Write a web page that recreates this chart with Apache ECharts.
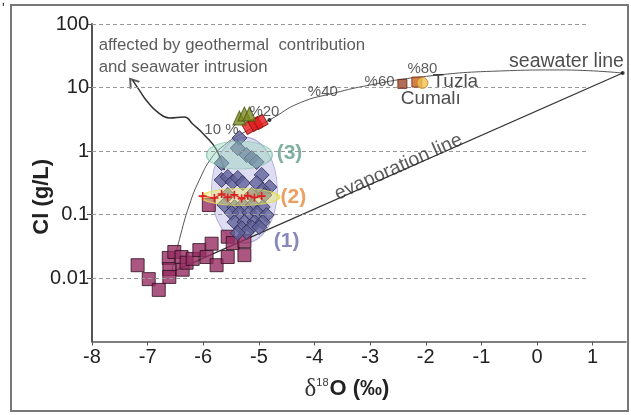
<!DOCTYPE html>
<html>
<head>
<meta charset="utf-8">
<script src="https://cdn.jsdelivr.net/npm/echarts@6/dist/echarts.min.js"></script>
<style>
  html, body { margin: 0; padding: 0; background: #fff; }
  #chart { width: 631px; height: 415px; }
</style>
</head>
<body>
<div id="chart"></div>
<script>
// Axis ticks
const xTicks = [-8, -7, -6, -5, -4, -3, -2, -1, 0, 1];
const yTicks = [0.01, 0.1, 1, 10, 100];

// δ18O (‰), Cl (g/L) — shallow fresh groundwater (squares)
const freshSamples = [
  [-7.18, 0.0159], [-6.98, 0.0096], [-6.80, 0.0065], [-6.62, 0.0207],
  [-6.61, 0.0138], [-6.61, 0.0104], [-6.52, 0.0257], [-6.39, 0.0214],
  [-6.37, 0.0135], [-6.30, 0.0174], [-6.19, 0.0200], [-6.07, 0.0275],
  [-5.94, 0.0214], [-5.85, 0.0347], [-5.76, 0.0159], [-5.56, 0.0447],
  [-5.56, 0.0214], [-5.47, 0.0355], [-5.26, 0.0380], [-5.26, 0.0229],
  [-5.90, 0.141]
];

// Geothermal / mixed waters (diamonds)
const thermalSamples = [
  [-5.35, 1.60], [-5.38, 1.11], [-5.22, 0.865], [-5.13, 0.776], [-5.04, 0.67],
  [-5.67, 0.645], [-4.95, 0.42], [-4.81, 0.27], [-5.67, 0.35], [-5.56, 0.39],
  [-5.47, 0.325], [-5.38, 0.376], [-5.29, 0.313], [-5.04, 0.313], [-4.93, 0.243],
  [-5.56, 0.203], [-5.13, 0.203], [-4.90, 0.203], [-5.62, 0.141], [-5.44, 0.131],
  [-5.29, 0.141], [-5.11, 0.141], [-4.93, 0.131], [-5.49, 0.106], [-5.35, 0.106],
  [-5.17, 0.106], [-5.03, 0.106], [-4.86, 0.098], [-5.44, 0.076], [-5.26, 0.076],
  [-5.08, 0.076], [-4.93, 0.076], [-5.31, 0.061], [-5.13, 0.063], [-4.99, 0.063],
  [-5.22, 0.053], [-5.38, 0.051]
];

// Saline geothermal waters (red)
const salineSamples = [[-5.17, 2.39], [-5.06, 2.66], [-4.97, 2.86]];
// Thermal springs (triangles)
const springSamples = [[-5.35, 3.31], [-5.26, 3.83], [-5.17, 3.83]];
// Tuzla / Cumalı springs
const tuzlaSquare = [[-2.42, 11.4]];
const cumaliSquare = [[-2.16, 12.2]];
const tuzlaCircle = [[-2.06, 11.8]];
// Group (2) samples
const group2Samples = [
  [-6.01, 0.195], [-5.80, 0.182], [-5.67, 0.21], [-5.56, 0.185], [-5.44, 0.205],
  [-5.31, 0.178], [-5.20, 0.198], [-5.08, 0.185], [-4.95, 0.195]
];

// End members
const seawater = [1.54, 16.9];
const freshEnd = [-6.57, 0.0124];

// Fresh–seawater mixing curve
const mixingCurve = [
  [-6.57, 0.0124], [-6.43, 0.040], [-6.25, 0.141], [-6.07, 0.35], [-5.85, 0.78],
  [-5.62, 1.24], [-5.35, 1.79], [-4.81, 3.08], [-4.27, 5.7], [-3.64, 8.2],
  [-3.01, 10.9], [-2.11, 14.6], [-0.67, 18.2], [0.41, 18.9], [1.54, 16.9]
];
const mix20 = [[-4.81, 3.08]];

// Trend arrow towards geothermal / seawater influence
const arrowPath = [
  [-5.62, 0.50], [-5.76, 1.04], [-5.98, 1.79], [-6.19, 2.66], [-6.34, 3.43],
  [-6.61, 3.31], [-6.82, 4.11], [-7.00, 5.9], [-7.15, 9.1], [-7.27, 13.1]
];

// Group envelopes: centre points
const group1Centre = [[-5.26, 0.243]];
const group3Centre = [[-5.35, 0.865]];
const group2Centre = [[-5.33, 0.189]];

// Text annotations (data-space anchors)
const annotations = [
  { text: 'affected by geothermal  contribution', at: [-7.88, 46.7], pos: 'right', size: 16.8, color: '#333' },
  { text: 'and seawater intrusion', at: [-7.88, 21], pos: 'right', size: 16.8, color: '#333' },
  { text: '10 %', at: [-5.98, 2.14], pos: 'right', size: 15, color: '#333' },
  { text: '%20', at: [-4.90, 4.11], pos: 'inside', size: 15, color: '#333' },
  { text: '%40', at: [-3.85, 8.5], pos: 'inside', size: 15, color: '#333' },
  { text: '%60', at: [-2.83, 12.2], pos: 'inside', size: 15, color: '#333' },
  { text: '%80', at: [-2.06, 19.6], pos: 'inside', size: 15, color: '#333' },
  { text: 'Tuzla', at: [-1.88, 12.2], pos: 'right', size: 19, color: '#222' },
  { text: 'Cumalı', at: [-1.91, 6.6], pos: 'inside', size: 19, color: '#222' },
  { text: 'seawater line', at: [0.53, 25.2], pos: 'inside', size: 19.5, color: '#222' },
  { text: 'evaporation line', at: [-2.49, 0.56], pos: 'inside', size: 19.5, color: '#333', rotate: 24 },
  { text: '(1)', at: [-4.50, 0.0383], pos: 'inside', size: 21, color: '#6b6ba8', bold: true },
  { text: '(2)', at: [-4.38, 0.189], pos: 'inside', size: 21, color: '#e8873a', bold: true },
  { text: '(3)', at: [-4.45, 0.93], pos: 'inside', size: 21, color: '#5f9c8a', bold: true }
];

const FONT = 'Liberation Sans, Arial, sans-serif';
const gridEndX = 0.89;

const chart = echarts.init(document.getElementById('chart'), null, { renderer: 'canvas' });

const option = {
  animation: false,
  backgroundColor: '#fff',
  textStyle: { fontFamily: FONT },
  graphic: [
    { type: 'rect', z: -10, shape: { x: 11, y: 5, width: 617, height: 406 },
      style: { fill: 'none', stroke: '#777', lineWidth: 2 } },
    { type: 'text', left: 2, top: 2, style: { text: 'ʹ', fontSize: 14, fill: '#333', fontFamily: FONT } }
  ],
  grid: { left: 92, top: 24, width: 534, height: 317.5 },
  xAxis: {
    type: 'value', min: -8, max: 1.6, interval: 1,
    axisLine: { onZero: false, lineStyle: { color: '#555', width: 1.5 } },
    axisTick: { length: 4, lineStyle: { color: '#555' }, customValues: xTicks },
    axisLabel: { fontSize: 20, color: '#222', margin: 6, fontFamily: FONT, customValues: xTicks },
    splitLine: { show: false },
    name: '{d|δ}{s|18}{b|O (‰)}',
    nameLocation: 'middle', nameGap: 35,
    nameTextStyle: {
      padding: [0, 24, 0, 0],
      rich: {
        d: { fontFamily: 'Liberation Serif, serif', fontSize: 25, color: '#333' },
        s: { fontFamily: FONT, fontSize: 11, color: '#333', padding: [0, 1, 13, 0] },
        b: { fontFamily: FONT, fontSize: 22, fontWeight: 'bold', color: '#222' }
      }
    }
  },
  yAxis: {
    type: 'log', logBase: 10, min: 0.001, max: 100,
    axisLine: { onZero: false, lineStyle: { color: '#555', width: 2 } },
    axisTick: { length: 5, lineStyle: { color: '#555' } },
    axisLabel: { fontSize: 20, color: '#222', margin: 3, fontFamily: FONT, showMinLabel: false,
      formatter: v => String(+v.toPrecision(3)) },
    splitLine: { show: false },
    minorTick: { show: false },
    name: 'Cl (g/L)', nameLocation: 'middle', nameGap: 39, nameMoveOverlap: false,
    nameTextStyle: { fontSize: 22, fontWeight: 'bold', color: '#222', fontFamily: FONT, padding: [0, 28, 0, 0] }
  },
  series: [
    // dashed horizontal grid lines
    {
      type: 'line', data: [], silent: true, z: 0,
      markLine: {
        silent: true, symbol: 'none', animation: false,
        label: { show: false },
        lineStyle: { color: '#999', type: [4, 3], width: 1 },
        data: yTicks.map(v => [{ coord: [-8, v] }, { coord: [gridEndX, v] }])
      }
    },
    // group (1) envelope
    {
      type: 'scatter', data: group1Centre, z: 1, silent: true,
      symbol: 'circle', symbolSize: [66, 106],
      itemStyle: { color: 'rgba(175,170,225,0.5)', borderColor: 'rgba(120,112,185,0.7)', borderWidth: 1 }
    },
    // evaporation line
    {
      type: 'line', data: [freshEnd, seawater], z: 2, silent: true, showSymbol: false,
      lineStyle: { color: '#333', width: 1.3 }
    },
    // mixing curve
    {
      type: 'line', data: mixingCurve, z: 2, silent: true, showSymbol: false, smooth: true,
      lineStyle: { color: '#555', width: 1 }
    },
    // trend arrow
    {
      type: 'line', data: arrowPath, z: 2, silent: true, showSymbol: false, smooth: true,
      lineStyle: { color: '#333', width: 1.5 }
    },
    {
      type: 'scatter', data: [arrowPath[arrowPath.length - 1]], z: 2, silent: true,
      symbol: 'path://M0,10 L5,0 L10,10', symbolSize: [11, 8], symbolRotate: 38,
      symbolOffset: [0, 2],
      itemStyle: { color: 'none', borderColor: '#333', borderWidth: 1.8 }
    },
    // fresh groundwater
    {
      type: 'scatter', data: freshSamples, z: 3, symbol: 'rect', symbolSize: 13,
      itemStyle: { color: '#962d62', borderColor: '#2a0f1e', borderWidth: 1 }
    },
    // mixed / geothermal waters
    {
      type: 'scatter', data: thermalSamples, z: 3, symbol: 'diamond', symbolSize: [15, 15],
      itemStyle: { color: '#62629a', borderColor: '#2d2d52', borderWidth: 1 }
    },
    // group (3) envelope
    {
      type: 'scatter', data: group3Centre, z: 4, silent: true,
      symbol: 'circle', symbolSize: [66, 28],
      itemStyle: { color: 'rgba(150,212,190,0.55)', borderColor: 'rgba(110,185,160,0.8)', borderWidth: 1 }
    },
    // group (2) envelope
    {
      type: 'scatter', data: group2Centre, z: 4, silent: true,
      symbol: 'circle', symbolSize: [77, 17],
      itemStyle: { color: 'rgba(236,236,110,0.55)', borderColor: '#e4de4a', borderWidth: 1.5 }
    },
    // group (2) samples
    {
      type: 'line', data: group2Samples, z: 5, silent: true,
      symbol: 'path://M4,0 L6,0 L6,4 L10,4 L10,6 L6,6 L6,10 L4,10 L4,6 L0,6 L0,4 L4,4 Z',
      symbolSize: 8, showSymbol: true,
      lineStyle: { color: '#e02020', width: 1.2 },
      itemStyle: { color: '#e02020' }
    },
    // saline geothermal
    {
      type: 'scatter', data: salineSamples, z: 5, symbol: 'rect', symbolSize: 11, symbolRotate: 30,
      itemStyle: { color: '#e41b1b', borderColor: '#8a0a0a', borderWidth: 1 }
    },
    // thermal springs
    {
      type: 'scatter', data: springSamples, z: 5, symbol: 'triangle', symbolSize: [13, 14],
      itemStyle: { color: '#7b8a1e', borderColor: '#4d5512', borderWidth: 1 }
    },
    // Tuzla / Cumalı
    {
      type: 'scatter', data: tuzlaSquare, z: 5, symbol: 'rect', symbolSize: 9,
      itemStyle: { color: '#a0472a', borderColor: '#5a2010', borderWidth: 1 }
    },
    {
      type: 'scatter', data: cumaliSquare, z: 5, symbol: 'rect', symbolSize: 10,
      itemStyle: { color: '#c8621e', borderColor: '#6a3010', borderWidth: 1 }
    },
    {
      type: 'scatter', data: tuzlaCircle, z: 5, symbol: 'circle', symbolSize: 11,
      itemStyle: { color: '#f2c050', borderColor: '#c87a20', borderWidth: 1 }
    },
    // end-member and mixing-ratio dots
    {
      type: 'scatter', data: [seawater].concat(mix20), z: 5, symbol: 'circle', symbolSize: 4,
      itemStyle: { color: '#111' }
    },
    // annotations
    {
      type: 'scatter', z: 6, silent: true, symbolSize: 0,
      data: annotations.map(a => ({
        value: a.at,
        label: {
          show: true, formatter: a.text, position: a.pos, distance: 0,
          fontSize: a.size, color: a.color, fontFamily: FONT,
          fontWeight: a.bold ? 'bold' : 'normal',
          rotate: a.rotate || 0
        }
      }))
    }
  ]
};

chart.setOption(option);
</script>
</body>
</html>
